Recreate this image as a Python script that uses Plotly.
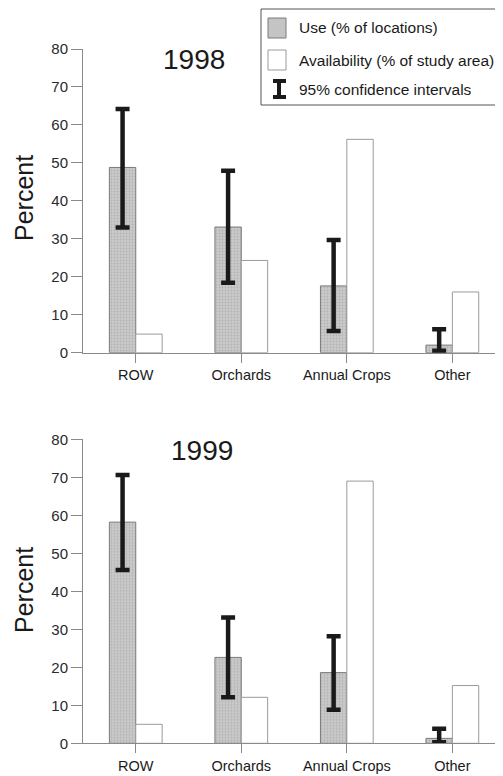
import plotly.graph_objects as go
from plotly.subplots import make_subplots

categories = ["ROW", "Orchards", "Annual Crops", "Other"]

use_1998 = [48.8, 33.1, 17.6, 2.0]
use_1998_hi = [64.2, 47.9, 29.7, 6.2]
use_1998_lo = [33.0, 18.4, 5.7, 0.5]
avail_1998 = [4.9, 24.3, 56.2, 16.0]

use_1999 = [58.2, 22.6, 18.6, 1.3]
use_1999_hi = [70.6, 33.1, 28.2, 3.8]
use_1999_lo = [45.6, 12.1, 8.8, 0.3]
avail_1999 = [5.0, 12.1, 69.0, 15.2]

years = ["1998", "1999"]
y_ticks = [0, 10, 20, 30, 40, 50, 60, 70, 80]

# page body has an 8px margin: the figure is drawn at (8, 8)
OFF = 8
W, H = 503 - OFF, 776 - OFF
FONT = "Liberation Sans, Arial, sans-serif"


def px(x):
    return (x - OFF) / W


def py(y):
    return 1 - (y - OFF) / H


fig = make_subplots(rows=2, cols=1)

datasets = [
    (use_1998, use_1998_hi, use_1998_lo, avail_1998),
    (use_1999, use_1999_hi, use_1999_lo, avail_1999),
]

for i, (use, hi, lo, avail) in enumerate(datasets):
    r = i + 1
    fig.add_trace(
        go.Bar(
            x=categories,
            y=use,
            name="Use (% of locations)",
            marker=dict(
                color="#c4c4c4",
                line=dict(color="#7a7a7a", width=1),
                pattern=dict(shape=".", fgcolor="#9a9a9a", bgcolor="#cacaca", size=3, solidity=0.3),
            ),
            error_y=dict(
                type="data",
                symmetric=False,
                array=[h - u for h, u in zip(hi, use)],
                arrayminus=[u - l for u, l in zip(use, lo)],
                color="#1a1a1a",
                thickness=4.5,
                width=7,
            ),
            showlegend=False,
        ),
        row=r, col=1,
    )
    fig.add_trace(
        go.Bar(
            x=categories,
            y=avail,
            name="Availability (% of study area)",
            marker=dict(color="white", line=dict(color="#9a9a9a", width=1)),
            showlegend=False,
        ),
        row=r, col=1,
    )

# Axis pixel geometry (page coordinates)
top_y0, top_y80 = 352.7, 49.0
bot_y0, bot_y80 = 743.3, 439.3
x_left = 83

axis_common = dict(
    showgrid=False,
    zeroline=False,
    showline=True,
    linecolor="#8a8a8a",
    linewidth=1,
    ticks="outside",
    tickcolor="#8a8a8a",
    automargin=False,
)

for r, (y0, y80) in zip([1, 2], [(top_y0, top_y80), (bot_y0, bot_y80)]):
    fig.update_yaxes(
        range=[0, 80],
        tickvals=y_ticks,
        ticklen=11,
        tickfont=dict(family=FONT, size=15, color="#2a2a2a"),
        domain=[py(y0), py(y80)],
        row=r, col=1,
        **axis_common,
    )
    fig.update_xaxes(
        type="category",
        range=[-0.5, 3.48],
        domain=[px(x_left), 1],
        ticklen=9,
        tickfont=dict(family=FONT, size=14.5, color="#1a1a1a"),
        row=r, col=1,
        **axis_common,
    )

annotations = []
# Year titles
for yr, (cx, cy) in zip(years, [(194, 59), (202, 450)]):
    annotations.append(dict(
        text=yr, x=px(cx), y=py(cy), xref="paper", yref="paper",
        showarrow=False, xanchor="center", yanchor="middle",
        font=dict(family=FONT, size=28, color="#1a1a1a"),
    ))
# Y axis titles
for cy in [198, 590]:
    annotations.append(dict(
        text="Percent", x=px(8), y=py(cy), xref="paper", yref="paper",
        showarrow=False, xanchor="left", yanchor="middle", textangle=-90,
        font=dict(family=FONT, size=25, color="#1a1a1a"),
    ))

# Legend (drawn manually)
legend_labels = ["Use (% of locations)", "Availability (% of study area)", "95% confidence intervals"]
legend_y = [28, 61, 89]
for lab, ly in zip(legend_labels, legend_y):
    annotations.append(dict(
        text=lab, x=px(297), y=py(ly), xref="paper", yref="paper",
        showarrow=False, xanchor="left", yanchor="middle",
        font=dict(family=FONT, size=15.5, color="#1a1a1a"),
    ))

shapes = [
    dict(type="rect", xref="paper", yref="paper", x0=px(261), x1=px(510), y0=py(105), y1=py(9),
         line=dict(color="#555", width=1), fillcolor="rgba(0,0,0,0)", layer="above"),
    dict(type="rect", xref="paper", yref="paper", x0=px(268), x1=px(286), y0=py(38), y1=py(18),
         line=dict(color="#7a7a7a", width=1), fillcolor="#c4c4c4"),
    dict(type="rect", xref="paper", yref="paper", x0=px(268), x1=px(286), y0=py(70), y1=py(50),
         line=dict(color="#9a9a9a", width=1), fillcolor="white"),
    dict(type="line", xref="paper", yref="paper", x0=px(279), x1=px(279), y0=py(97), y1=py(81),
         line=dict(color="#1a1a1a", width=4)),
    dict(type="line", xref="paper", yref="paper", x0=px(273), x1=px(286), y0=py(81), y1=py(81),
         line=dict(color="#1a1a1a", width=4)),
    dict(type="line", xref="paper", yref="paper", x0=px(273), x1=px(286), y0=py(97), y1=py(97),
         line=dict(color="#1a1a1a", width=4)),
]

fig.update_layout(
    width=W,
    height=H,
    margin=dict(l=0, r=0, t=0, b=0),
    paper_bgcolor="white",
    plot_bgcolor="white",
    barmode="group",
    bargap=0.5,
    bargroupgap=0,
    showlegend=False,
    annotations=annotations,
    shapes=shapes,
    font=dict(family=FONT),
)

fig.write_html("out.html")
